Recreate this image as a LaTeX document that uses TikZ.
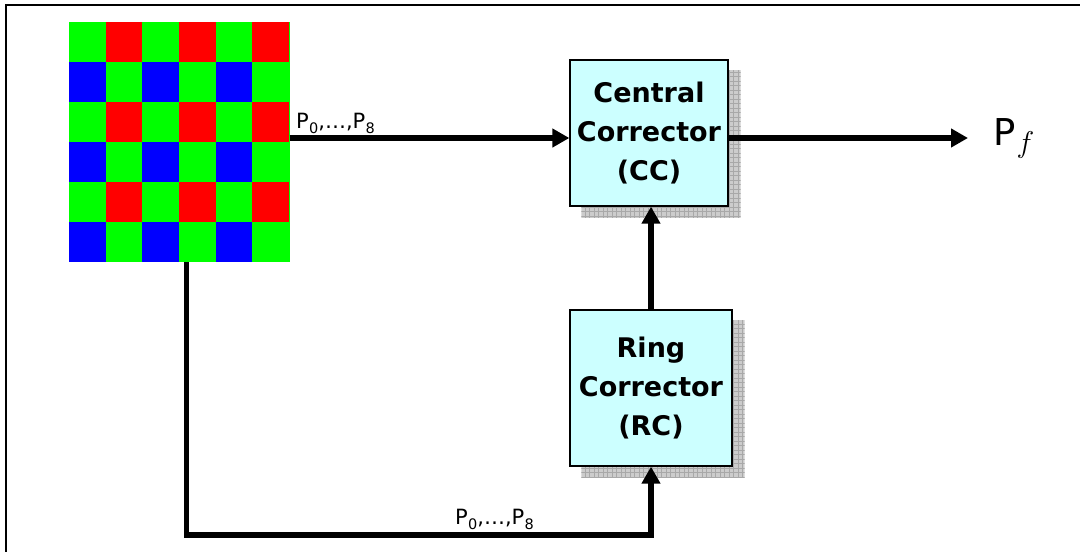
\documentclass[tikz,border=0pt]{standalone}
\usepackage{fix-cm}
\usepackage{fontspec}
\setmainfont{DejaVu Sans}
\usetikzlibrary{arrows.meta,backgrounds,calc}
\definecolor{cyanfill}{HTML}{CCFFFF}
\definecolor{bgreen}{HTML}{00FF00}
\definecolor{bred}{HTML}{FF0000}
\definecolor{bblue}{HTML}{0000FF}
\definecolor{shadefill}{HTML}{CCCCCC}
\definecolor{shadeline}{HTML}{A8A8A8}
\newcommand{\psub}[1]{P\kern0.3pt\raisebox{-5pt}{\fontsize{14.5}{14.5}\selectfont #1}}
\newcommand{\boxshadow}[1]{%
  \begin{scope}
    \clip ($(#1.south west)+(12,11)$) rectangle ($(#1.north east)+(12,11)$);
    \fill[shadefill] ($(#1.south west)+(12,11)$) rectangle ($(#1.north east)+(12,11)$);
    \draw[shadeline,line width=0.5pt,step=4.5pt] ($(#1.south west)+(0,20)$) grid ($(#1.north east)+(20,0)$);
  \end{scope}}
\begin{document}
\begin{tikzpicture}[x=1pt,y=-1pt,
  blk/.style={draw=black,line width=1.3pt,fill=cyanfill,inner sep=0pt,align=center,
    font=\fontsize{27}{39}\selectfont\bfseries},
  conn/.style={line width=5.5pt,-{Triangle[length=17pt,width=18pt]}},
  lbl/.style={inner sep=0pt,font=\fontsize{21}{21}\selectfont}]
\useasboundingbox (0,0) rectangle (1080,552);
% frame
\draw[line width=1.5pt] (6,570) -- (6,5) -- (1100,5);
% Bayer pattern
\node[minimum width=220pt,minimum height=240pt,inner sep=0pt] (bayer) at (179.3,142) {};
\fill[bgreen] (bayer.north west) rectangle (bayer.south east);
\foreach \r in {0,2,4} \foreach \c in {1,3,5}
  \fill[bred] ($(bayer.north west)+(\c*36.67,\r*40)$) rectangle +(36.67,40);
\foreach \r in {1,3,5} \foreach \c in {0,2,4}
  \fill[bblue] ($(bayer.north west)+(\c*36.67,\r*40)$) rectangle +(36.67,40);
% blocks
\node[blk,minimum width=158pt,minimum height=146pt] (cc) at (649,133) {\rule{0pt}{3pt}Central\\Corrector\\(CC)};
\node[blk,minimum width=162pt,minimum height=156pt] (rc) at (651,388) {\rule{0pt}{3pt}Ring\\Corrector\\(RC)};
\begin{scope}[on background layer]
  \boxshadow{cc}
  \boxshadow{rc}
\end{scope}
% connectors
\coordinate (pf) at (968,138);
\coordinate (low) at (0,535);
\draw[conn] (bayer.east |- pf) -- (cc.west |- pf);
\draw[conn] (cc.east |- pf) -- (pf);
\draw[conn] (rc.north) -- (rc.north |- cc.south);
\draw[conn] ([xshift=7pt]bayer.south) |- (low -| rc.south) -- (rc.south);
% labels
\node[lbl,anchor=base west] (ltop) at (296,128) {\psub{0},…,\psub{8}};
\node[lbl,anchor=base west] (lbot) at (455,524) {\psub{0},…,\psub{8}};
\node[inner sep=0pt,anchor=base west] (pfl) at (993,145)
  {\fontsize{37}{37}\selectfont P\kern1pt\raisebox{-7pt}{\fontsize{30}{30}\selectfont$f$}};
\end{tikzpicture}
\end{document}
